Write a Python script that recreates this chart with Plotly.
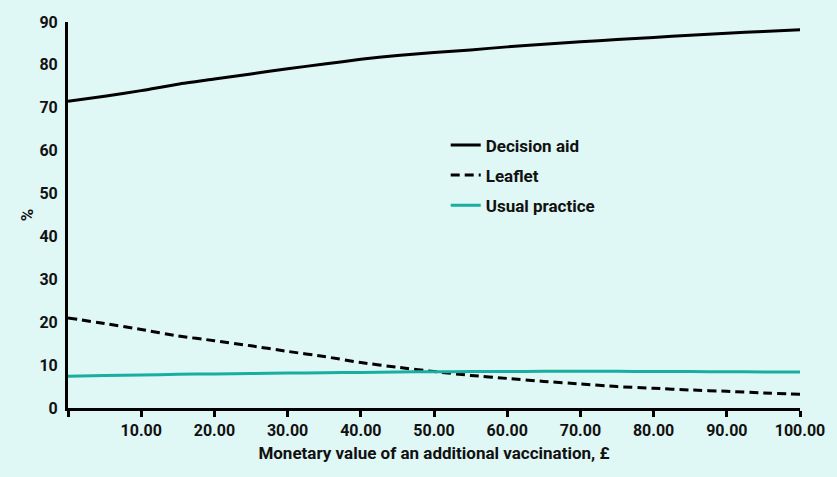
import plotly.graph_objects as go

x_values = [0, 5, 10, 15, 20, 25, 30, 35, 40, 45, 50, 55, 60, 65, 70, 75, 80, 85, 90, 95, 100]
decision_aid = [71.5, 72.7, 74.0, 75.5, 76.7, 77.9, 79.1, 80.2, 81.3, 82.2, 82.9, 83.5, 84.2, 84.8, 85.4, 85.9, 86.4, 86.9, 87.4, 87.8, 88.2]
leaflet = [21.0, 19.7, 18.3, 16.8, 15.7, 14.5, 13.2, 12.0, 10.6, 9.5, 8.5, 7.6, 6.9, 6.2, 5.6, 5.0, 4.6, 4.2, 3.9, 3.5, 3.2]
usual_practice = [7.4, 7.55, 7.7, 7.85, 7.95, 8.05, 8.15, 8.2, 8.3, 8.4, 8.45, 8.5, 8.5, 8.55, 8.55, 8.55, 8.5, 8.5, 8.45, 8.4, 8.4]

x_tickvals = [0, 10, 20, 30, 40, 50, 60, 70, 80, 90, 100]
x_ticktext = ["", "10.00", "20.00", "30.00", "40.00", "50.00", "60.00", "70.00", "80.00", "90.00", "100.00"]
y_tickvals = [0, 10, 20, 30, 40, 50, 60, 70, 80, 90]

BG = "#dff7f5"
TEAL = "#18aea1"
TICKFONT = dict(family="Roboto", size=16, color="#111111", weight=700)
TITLEFONT = dict(family="Roboto", size=17, color="#111111", weight=700)

fig = go.Figure()
fig.add_trace(go.Scatter(x=x_values, y=decision_aid, mode="lines", name="Decision aid",
                         line=dict(color="#000000", width=3, shape="spline", smoothing=0.6), legendgroup="a"))
fig.add_trace(go.Scatter(x=x_values, y=leaflet, mode="lines", name="Leaflet",
                         line=dict(color="#000000", width=3, dash="9px,5px", shape="spline", smoothing=0.6), legendgroup="b"))
fig.add_trace(go.Scatter(x=x_values, y=usual_practice, mode="lines", name="Usual practice",
                         line=dict(color=TEAL, width=3, shape="spline", smoothing=0.6), legendgroup="c"))

fig.update_layout(
    width=837, height=477,
    margin=dict(l=68, r=31, t=22, b=69),
    paper_bgcolor=BG, plot_bgcolor=BG,
    font=TICKFONT,
    showlegend=True,
    legend=dict(x=0.516, y=0.727, xanchor="left", yanchor="top",
                bgcolor="rgba(0,0,0,0)", font=TITLEFONT,
                tracegroupgap=5, traceorder="grouped", itemwidth=30),
    xaxis=dict(range=[0, 100], tickvals=x_tickvals, ticktext=x_ticktext,
               showgrid=False, zeroline=False, showline=True, linecolor="#000000", linewidth=3,
               ticks="outside", ticklen=6, tickwidth=3, tickcolor="#000000",
               title=dict(text="Monetary value of an additional vaccination, £", standoff=8,
                          font=TITLEFONT),
               tickfont=TICKFONT),
    yaxis=dict(range=[0, 90], tickvals=y_tickvals,
               showgrid=False, zeroline=False, showline=True, linecolor="#000000", linewidth=3,
               ticks="", ticklabelstandoff=4,
               title=dict(text="%", standoff=2, font=TITLEFONT),
               tickfont=TICKFONT),
)

fig.write_html("out.html", config={"displayModeBar": False},
               post_script="document.body.style.margin='0';document.body.style.background='" + BG + "';")
